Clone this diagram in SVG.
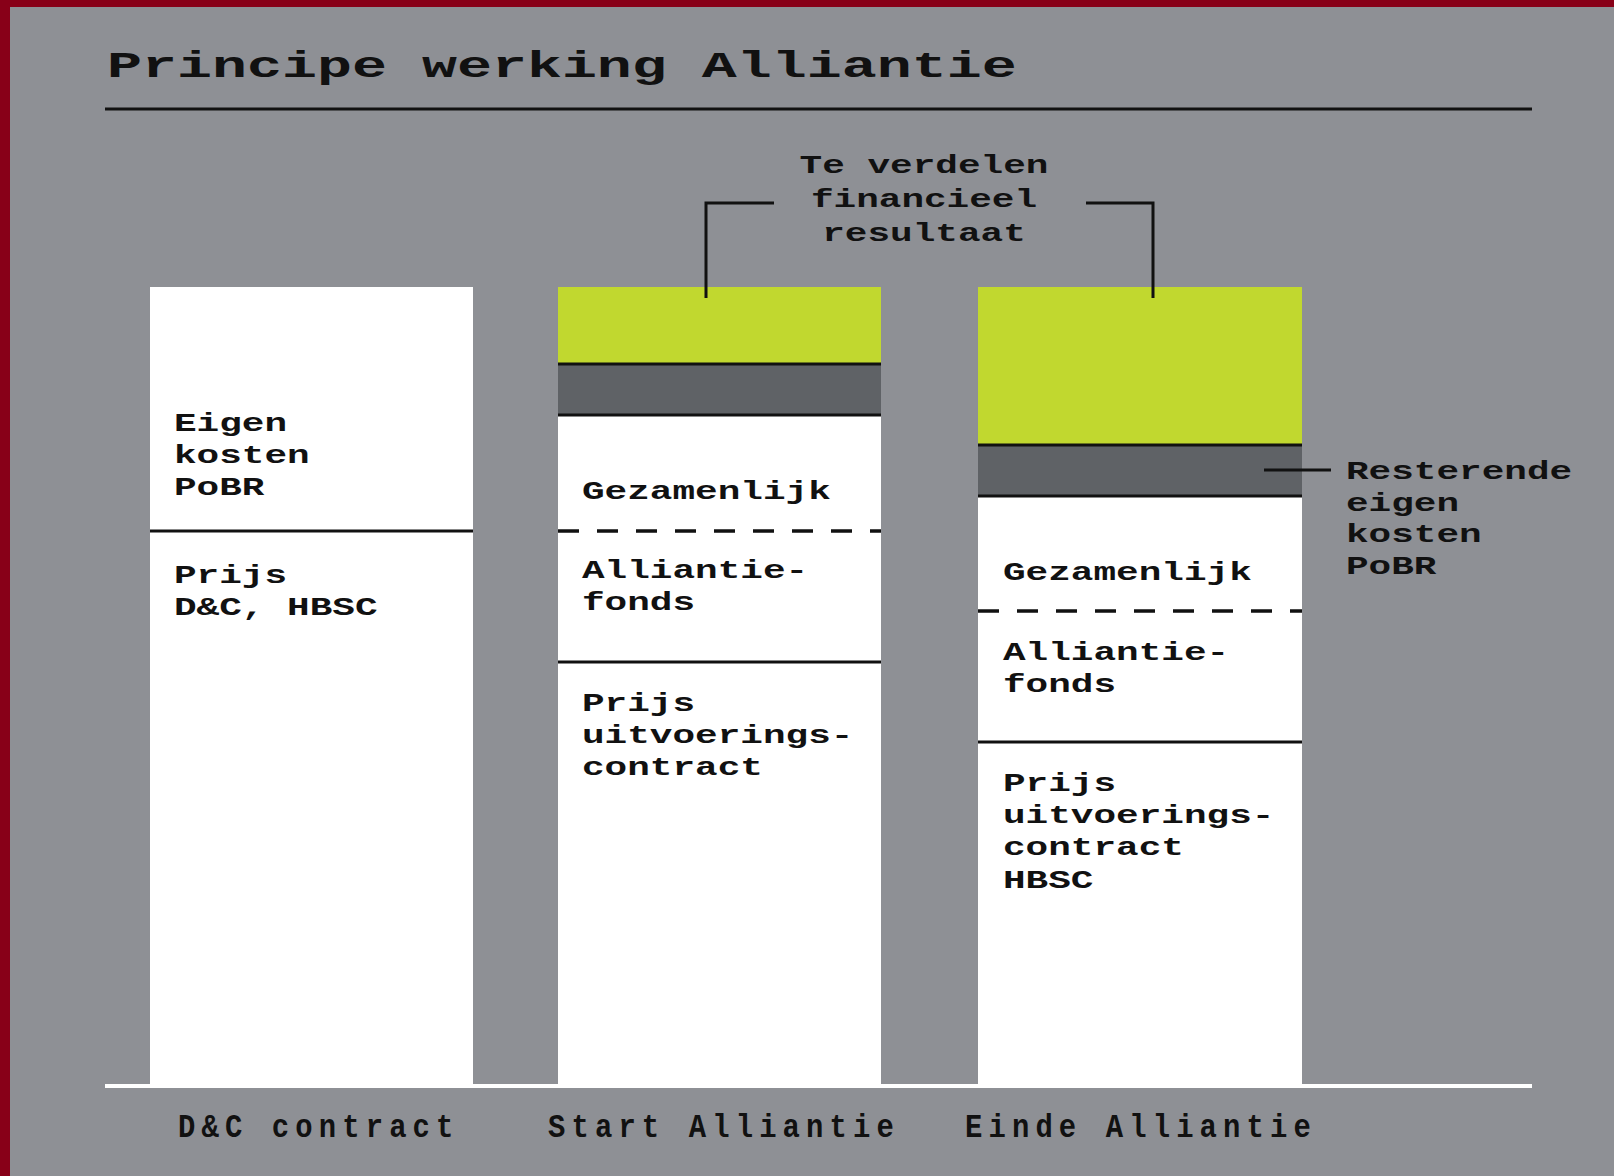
<svg xmlns="http://www.w3.org/2000/svg" width="1614" height="1176" viewBox="0 0 1614 1176">
<style>
.t{font-family:"Liberation Mono","Courier New",monospace;font-weight:bold;font-size:26px;fill:#111}
.ttl{font-family:"Liberation Mono","Courier New",monospace;font-weight:bold;font-size:36px;fill:#111}
.bl{font-family:"Liberation Mono","Courier New",monospace;font-weight:bold;font-size:34px;fill:#111}
.blk{stroke:#111;stroke-width:3;fill:none}
.dash{stroke:#111;stroke-width:3.5;stroke-dasharray:21 18;fill:none}
.white{fill:#ffffff}
.green{fill:#c1d82f}
.dark{fill:#5f6266}
</style>
<rect x="0" y="0" width="1614" height="1176" fill="#8e9095"/>
<rect x="0" y="0" width="1614" height="7" fill="#880018"/>
<rect x="0" y="0" width="10" height="1176" fill="#880018"/>

<g id="title">
<text class="ttl" transform="translate(107,77) scale(1.62,1)">Principe werking Alliantie</text>
<line x1="105" y1="109" x2="1532" y2="109" stroke="#111" stroke-width="3"/>
</g>

<g id="col-dc">
<rect class="white" x="150" y="287" width="323" height="799"/>
<line class="blk" x1="150" y1="531" x2="473" y2="531"/>
<text class="t" transform="translate(174,431) scale(1.45,1)"><tspan x="0" y="0">Eigen</tspan><tspan x="0" y="32">kosten</tspan><tspan x="0" y="64">PoBR</tspan></text>
<text class="t" transform="translate(174,583) scale(1.45,1)"><tspan x="0" y="0">Prijs</tspan><tspan x="0" y="32">D&amp;C, HBSC</tspan></text>
</g>

<g id="col-start">
<rect class="white" x="558" y="287" width="323" height="799"/>
<rect class="green" x="558" y="287" width="323" height="76"/>
<rect class="dark" x="558" y="363" width="323" height="52"/>
<line class="blk" x1="558" y1="364" x2="881" y2="364"/>
<line class="blk" x1="558" y1="415" x2="881" y2="415"/>
<line class="dash" x1="558" y1="531" x2="881" y2="531"/>
<line class="blk" x1="558" y1="662" x2="881" y2="662"/>
<text class="t" transform="translate(582,499) scale(1.45,1)">Gezamenlijk</text>
<text class="t" transform="translate(582,578) scale(1.45,1)"><tspan x="0" y="0">Alliantie-</tspan><tspan x="0" y="32">fonds</tspan></text>
<text class="t" transform="translate(582,711) scale(1.45,1)"><tspan x="0" y="0">Prijs</tspan><tspan x="0" y="32">uitvoerings-</tspan><tspan x="0" y="64">contract</tspan></text>
</g>

<g id="col-einde">
<rect class="white" x="978" y="287" width="324" height="799"/>
<rect class="green" x="978" y="287" width="324" height="158"/>
<rect class="dark" x="978" y="445" width="324" height="51"/>
<line class="blk" x1="978" y1="445" x2="1302" y2="445"/>
<line class="blk" x1="978" y1="496" x2="1302" y2="496"/>
<line class="dash" x1="978" y1="611" x2="1302" y2="611"/>
<line class="blk" x1="978" y1="742" x2="1302" y2="742"/>
<text class="t" transform="translate(1003,580) scale(1.45,1)">Gezamenlijk</text>
<text class="t" transform="translate(1003,660) scale(1.45,1)"><tspan x="0" y="0">Alliantie-</tspan><tspan x="0" y="32">fonds</tspan></text>
<text class="t" transform="translate(1003,791) scale(1.45,1)"><tspan x="0" y="0">Prijs</tspan><tspan x="0" y="32">uitvoerings-</tspan><tspan x="0" y="64">contract</tspan><tspan x="0" y="97">HBSC</tspan></text>
</g>

<g id="label-resultaat">
<text class="t" text-anchor="middle" transform="translate(924,173) scale(1.45,1)"><tspan x="0" y="0">Te verdelen</tspan><tspan x="0" y="34">financieel</tspan><tspan x="0" y="68">resultaat</tspan></text>
</g>

<g id="label-resterend">
<text class="t" transform="translate(1346,479) scale(1.45,1)"><tspan x="0" y="0">Resterende</tspan><tspan x="0" y="32">eigen</tspan><tspan x="0" y="63">kosten</tspan><tspan x="0" y="95">PoBR</tspan></text>
</g>

<g id="connectors">
<polyline class="blk" points="774,203 706,203 706,298"/>
<polyline class="blk" points="1086,203 1153,203 1153,298"/>
<line class="blk" x1="1264" y1="470" x2="1331" y2="470"/>
</g>

<g id="axis">
<line x1="105" y1="1086" x2="1532" y2="1086" stroke="#ffffff" stroke-width="4"/>
<text class="bl" transform="translate(178,1137) scale(0.85,1)" letter-spacing="7.2">D&amp;C contract</text>
<text class="bl" transform="translate(548,1137) scale(0.85,1)" letter-spacing="7.2">Start Alliantie</text>
<text class="bl" transform="translate(965,1137) scale(0.85,1)" letter-spacing="7.2">Einde Alliantie</text>
</g>
</svg>
